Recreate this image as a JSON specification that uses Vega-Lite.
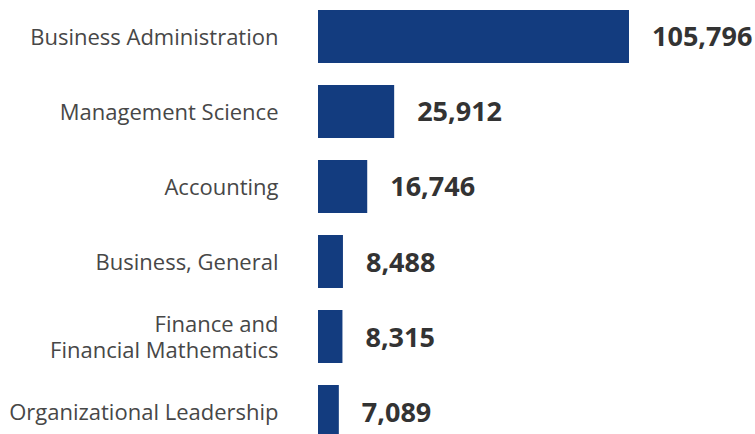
{
  "$schema": "https://vega.github.io/schema/vega-lite/v6.json",
  "width": 311,
  "height": 434,
  "autosize": "none",
  "padding": {"left": 318, "right": 126, "top": 0, "bottom": 0},
  "background": "white",
  "config": {"view": {"stroke": null}, "font": "Open Sans"},
  "data": {"values": [
    {"major": "Business Administration", "count": 105796},
    {"major": "Management Science", "count": 25912},
    {"major": "Accounting", "count": 16746},
    {"major": "Business, General", "count": 8488},
    {"major": "Finance and Financial Mathematics", "count": 8315},
    {"major": "Organizational Leadership", "count": 7089}
  ]},
  "encoding": {
    "y": {
      "field": "major", "type": "nominal", "sort": null, "title": null,
      "scale": {"range": [0, 448], "paddingInner": 0.293, "paddingOuter": 0.133},
      "axis": {
        "ticks": false, "domain": false, "labelPadding": 40,
        "labelFont": "Open Sans", "labelFontSize": 22, "labelColor": "#474747",
        "labelLimit": 400, "labelLineHeight": 26,
        "labelOffset": {"condition": {"test": "datum.value == 'Finance and Financial Mathematics'", "value": -11.5}, "value": 1.5},
        "labelExpr": "datum.value == 'Finance and Financial Mathematics' ? ['Finance and', 'Financial Mathematics'] : datum.value"
      }
    },
    "x": {
      "field": "count", "type": "quantitative", "title": null, "axis": null,
      "scale": {"domain": [0, 105796], "nice": false}
    }
  },
  "layer": [
    {"mark": {"type": "bar", "color": "#133c7f"}},
    {"mark": {"type": "text", "align": "left", "baseline": "middle", "dx": 23, "dy": 2, "font": "Open Sans", "fontSize": 27, "fontWeight": "bold", "color": "#333333"},
     "encoding": {"text": {"field": "count", "type": "quantitative", "format": ","}}}
  ]
}
